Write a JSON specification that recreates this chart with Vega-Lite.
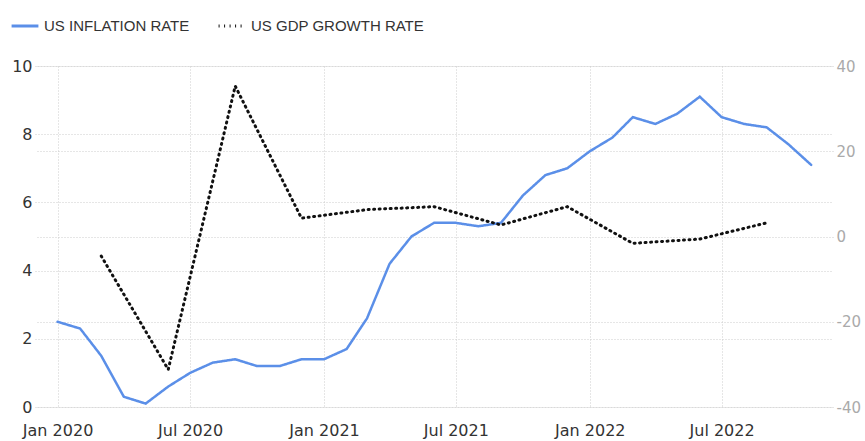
{
  "$schema": "https://vega.github.io/schema/vega-lite/v6.json",
  "width": 798,
  "height": 341,
  "autosize": {"type": "none"},
  "padding": {"left": 35, "top": 66, "right": 32, "bottom": 34},
  "background": "white",
  "config": {
    "view": {"stroke": null},
    "font": "DejaVu Sans",
    "axis": {"labelFont": "DejaVu Sans", "labelFontSize": 16}
  },
  "datasets": {
    "infl": [
      {"date": "2020-01-01", "series": "US INFLATION RATE", "value": 2.5},
      {"date": "2020-02-01", "series": "US INFLATION RATE", "value": 2.3},
      {"date": "2020-03-01", "series": "US INFLATION RATE", "value": 1.5},
      {"date": "2020-04-01", "series": "US INFLATION RATE", "value": 0.3},
      {"date": "2020-05-01", "series": "US INFLATION RATE", "value": 0.1},
      {"date": "2020-06-01", "series": "US INFLATION RATE", "value": 0.6},
      {"date": "2020-07-01", "series": "US INFLATION RATE", "value": 1.0},
      {"date": "2020-08-01", "series": "US INFLATION RATE", "value": 1.3},
      {"date": "2020-09-01", "series": "US INFLATION RATE", "value": 1.4},
      {"date": "2020-10-01", "series": "US INFLATION RATE", "value": 1.2},
      {"date": "2020-11-01", "series": "US INFLATION RATE", "value": 1.2},
      {"date": "2020-12-01", "series": "US INFLATION RATE", "value": 1.4},
      {"date": "2021-01-01", "series": "US INFLATION RATE", "value": 1.4},
      {"date": "2021-02-01", "series": "US INFLATION RATE", "value": 1.7},
      {"date": "2021-03-01", "series": "US INFLATION RATE", "value": 2.6},
      {"date": "2021-04-01", "series": "US INFLATION RATE", "value": 4.2},
      {"date": "2021-05-01", "series": "US INFLATION RATE", "value": 5.0},
      {"date": "2021-06-01", "series": "US INFLATION RATE", "value": 5.4},
      {"date": "2021-07-01", "series": "US INFLATION RATE", "value": 5.4},
      {"date": "2021-08-01", "series": "US INFLATION RATE", "value": 5.3},
      {"date": "2021-09-01", "series": "US INFLATION RATE", "value": 5.4},
      {"date": "2021-10-01", "series": "US INFLATION RATE", "value": 6.2},
      {"date": "2021-11-01", "series": "US INFLATION RATE", "value": 6.8},
      {"date": "2021-12-01", "series": "US INFLATION RATE", "value": 7.0},
      {"date": "2022-01-01", "series": "US INFLATION RATE", "value": 7.5},
      {"date": "2022-02-01", "series": "US INFLATION RATE", "value": 7.9},
      {"date": "2022-03-01", "series": "US INFLATION RATE", "value": 8.5},
      {"date": "2022-04-01", "series": "US INFLATION RATE", "value": 8.3},
      {"date": "2022-05-01", "series": "US INFLATION RATE", "value": 8.6},
      {"date": "2022-06-01", "series": "US INFLATION RATE", "value": 9.1},
      {"date": "2022-07-01", "series": "US INFLATION RATE", "value": 8.5},
      {"date": "2022-08-01", "series": "US INFLATION RATE", "value": 8.3},
      {"date": "2022-09-01", "series": "US INFLATION RATE", "value": 8.2},
      {"date": "2022-10-01", "series": "US INFLATION RATE", "value": 7.7},
      {"date": "2022-11-01", "series": "US INFLATION RATE", "value": 7.1}
    ],
    "gdp": [
      {"date": "2020-03-01", "series": "US GDP GROWTH RATE", "value": -4.6},
      {"date": "2020-06-01", "series": "US GDP GROWTH RATE", "value": -31.2},
      {"date": "2020-09-01", "series": "US GDP GROWTH RATE", "value": 35.3},
      {"date": "2020-12-01", "series": "US GDP GROWTH RATE", "value": 4.3},
      {"date": "2021-03-01", "series": "US GDP GROWTH RATE", "value": 6.3},
      {"date": "2021-06-01", "series": "US GDP GROWTH RATE", "value": 7.0},
      {"date": "2021-09-01", "series": "US GDP GROWTH RATE", "value": 2.7},
      {"date": "2021-12-01", "series": "US GDP GROWTH RATE", "value": 7.0},
      {"date": "2022-03-01", "series": "US GDP GROWTH RATE", "value": -1.6},
      {"date": "2022-06-01", "series": "US GDP GROWTH RATE", "value": -0.6},
      {"date": "2022-09-01", "series": "US GDP GROWTH RATE", "value": 3.2}
    ]
  },
  "encoding": {
    "x": {
      "field": "date",
      "type": "temporal",
      "scale": {"domain": ["2019-12-01", "2022-12-01"]},
      "axis": {
        "title": null,
        "values": [
          {"year": 2020, "month": 1, "date": 1},
          {"year": 2020, "month": 7, "date": 1},
          {"year": 2021, "month": 1, "date": 1},
          {"year": 2021, "month": 7, "date": 1},
          {"year": 2022, "month": 1, "date": 1},
          {"year": 2022, "month": 7, "date": 1}
        ],
        "format": "%b %Y",
        "domain": false,
        "ticks": false,
        "labelPadding": 15,
        "labelColor": "#333333",
        "grid": true,
        "gridDash": [1, 2],
        "gridColor": "#cccccc"
      }
    },
    "color": {
      "field": "series",
      "type": "nominal",
      "scale": {"domain": ["US INFLATION RATE", "US GDP GROWTH RATE"], "range": ["#5b8fe8", "#111111"]},
      "legend": {
        "title": null,
        "orient": "none",
        "legendX": -25,
        "legendY": -55,
        "direction": "horizontal",
        "symbolType": "stroke",
        "symbolStrokeWidth": 3,
        "symbolSize": 720,
        "labelFont": "Liberation Sans",
        "labelFontSize": 15,
        "labelLimit": 400,
        "labelColor": "#333333",
        "columnPadding": 22,
        "labelOffset": 4
      }
    },
    "strokeDash": {
      "field": "series",
      "type": "nominal",
      "scale": {"domain": ["US INFLATION RATE", "US GDP GROWTH RATE"], "range": [[1, 0], [1, 4.5]]},
      "legend": {
        "title": null,
        "orient": "none",
        "legendX": -25,
        "legendY": -55,
        "direction": "horizontal",
        "symbolType": "stroke",
        "symbolStrokeWidth": 3,
        "symbolSize": 720,
        "labelFont": "Liberation Sans",
        "labelFontSize": 15,
        "labelLimit": 400,
        "labelColor": "#333333",
        "columnPadding": 22,
        "labelOffset": 4
      }
    }
  },
  "layer": [
    {
      "data": {"name": "infl"},
      "mark": {"type": "line", "strokeWidth": 2.5, "strokeCap": "round"},
      "encoding": {
        "y": {
          "field": "value",
          "type": "quantitative",
          "scale": {"domain": [0, 10], "nice": false},
          "axis": {
            "title": null,
            "values": [0, 2, 4, 6, 8, 10],
            "orient": "left",
            "domain": false,
            "ticks": false,
            "labelPadding": 3,
            "labelColor": "#333333",
            "grid": true,
            "gridDash": [1, 2],
            "gridColor": "#cccccc"
          }
        }
      }
    },
    {
      "data": {"name": "gdp"},
      "mark": {"type": "line", "strokeWidth": 3, "strokeCap": "round"},
      "encoding": {
        "y": {
          "field": "value",
          "type": "quantitative",
          "scale": {"domain": [-40, 40], "nice": false},
          "axis": {
            "title": null,
            "values": [-40, -20, 0, 20, 40],
            "labelExpr": "datum.value < 0 ? '-' + abs(datum.value) : '' + datum.value",
            "orient": "right",
            "domain": false,
            "ticks": false,
            "labelPadding": 3,
            "labelFontSize": 15,
            "labelColor": "#aaaaaa",
            "grid": true,
            "gridDash": [1, 2],
            "gridColor": "#cccccc"
          }
        }
      }
    }
  ],
  "resolve": {"scale": {"y": "independent"}}
}
